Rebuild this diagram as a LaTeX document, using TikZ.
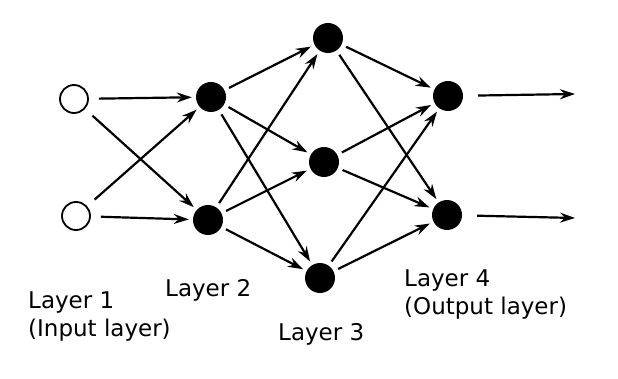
\documentclass[tikz,border=0pt]{standalone}
\usepackage{fontspec}
\setmainfont{DejaVu Sans}
\usetikzlibrary{arrows.meta}

\begin{document}
\begin{tikzpicture}[
    x=1pt, y=-1pt,
    font=\fontsize{23}{27.5}\selectfont,
    inmark/.style  ={circle, draw=black, line width=1.8pt, fill=white, minimum size=28pt, inner sep=0pt},
    hidmark/.style ={circle, fill=black, minimum size=30pt, inner sep=0pt},
    conn/.style    ={-{Stealth[length=15pt, width=10pt, inset=5pt]}, line width=2.2pt, shorten <=5pt, shorten >=4pt},
    lab/.style     ={anchor=north west, align=left, inner sep=0pt},
  ]
  \useasboundingbox (0,0) rectangle (618,379);

  % ---- layer 1: input units ----
  \node[inmark] (l1a) at (74,99) {};
  \node[inmark] (l1b) at (76,216) {};

  % ---- layer 2 ----
  \node[hidmark] (l2a) at (211,97) {};
  \node[hidmark] (l2b) at (208,220) {};

  % ---- layer 3 ----
  \node[hidmark] (l3a) at (328,38) {};
  \node[hidmark] (l3b) at (324,162) {};
  \node[hidmark] (l3c) at (320,278) {};

  % ---- layer 4: output units ----
  \node[hidmark] (l4a) at (448,96) {};
  \node[hidmark] (l4b) at (447,215) {};
  \coordinate (o1) at (575,94);
  \coordinate (o2) at (575,218);

  % ---- connections ----
  \foreach \a in {l1a,l1b} \foreach \b in {l2a,l2b}
    \draw[conn, shorten <=10pt] (\a) -- (\b);
  \foreach \a in {l2a,l2b} \foreach \b in {l3a,l3b,l3c}
    \draw[conn] (\a) -- (\b);
  \foreach \a in {l3a,l3b,l3c} \foreach \b in {l4a,l4b}
    \draw[conn] (\a) -- (\b);
  \draw[conn, shorten <=15pt, shorten >=0pt] (l4a) -- (o1);
  \draw[conn, shorten <=15pt, shorten >=0pt] (l4b) -- (o2);

  % ---- layer labels ----
  \node[lab] (t1) at (28,292) {Layer 1\\(Input layer)};
  \node[lab] (t2) at (165,279) {Layer 2};
  \node[lab] (t3) at (278,323) {Layer 3};
  \node[lab] (t4) at (404,270) {Layer 4\\(Output layer)};
\end{tikzpicture}
\end{document}
